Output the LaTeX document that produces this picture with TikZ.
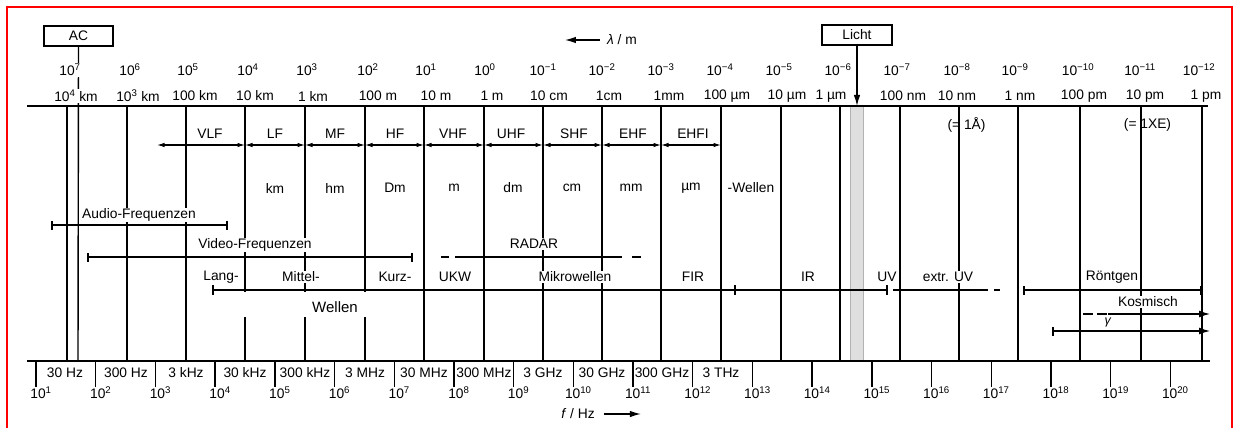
\documentclass[tikz,border=0pt]{standalone}
\usepackage{fontspec}
\setmainfont{Liberation Sans}
\usetikzlibrary{arrows.meta}
\begin{document}
\begin{tikzpicture}[x=1pt,y=-1pt,
  every node/.style={font=\fontsize{13.8}{16}\selectfont, inner sep=1pt},
  axisline/.style={line width=1.4pt},
  vline/.style={line width=1.4pt},
  lab/.style={fill=white, inner sep=1pt},
  bandarrow/.style={line width=1.1pt, {Latex[length=7.5pt,width=4.5pt]}-{Latex[length=7.5pt,width=4.5pt]}},
  rangebar/.style={line width=1.3pt, {Bar[width=9pt,line width=1.8pt]}-{Bar[width=9pt,line width=1.8pt]}},
  tickmark/.style={line width=1.8pt},
  bigarrow/.style={line width=1.3pt, -{Latex[length=11pt,width=7pt]}},
  boxlabel/.style={draw, line width=1.1pt, minimum height=20pt, inner sep=2pt}
]
\useasboundingbox (0,0) rectangle (1235,428);
% frame
\draw[red, line width=2pt] (7,428) -- (7,7) -- (1232,7) -- (1232,428);

% light band
\draw[gray!60, fill=gray!25, line width=0.6pt] (850,106) rectangle (863,361);

% vertical lines
\foreach \x in {67,127,186,424,484,543,602,661,721,781,840,900,959,1018,1080,1141,1202}
  \draw[vline] (\x,106) -- (\x,361);
\foreach \x in {245,305,365} {
  \draw[vline] (\x,106) -- (\x,292);
  \draw[vline] (\x,317) -- (\x,361);
}

% AC box and line
\node[boxlabel, minimum width=69pt] (ac) at (78.5,36) {AC};
\draw[vline] (ac.south) -- (78,361);

% Licht box and arrow
\node[boxlabel, minimum width=70pt] (licht) at (857,35) {Licht};
\draw[line width=1.3pt, -{Latex[length=11pt,width=6.5pt]}] (licht.south) -- (857,106);

% axes
\draw[axisline] (27,106) -- (1208,106);
\draw[axisline] (27,361) -- (1210,361);

% lambda title
\node (lam) at (622,40) {\textit{λ} / m};
\draw[line width=1.3pt, -{Latex[length=11pt,width=6.5pt]}] ([xshift=-6pt]lam.west) -- ++(-35,0);

% top exponent labels
\foreach \x/\t [count=\i] in {70/7,130/6,188/5,248/4,307/3,368/2,426/1,485/0,543/−1,602/−2,661/−3,720/−4,779/−5,838/−6,897/−7,957/−8,1015/−9,1078/−10,1140/−11,1199/−12}
  \node[lab] (e\i) at (\x,70) {10\textsuperscript{\t}};

% top unit labels
\foreach \x/\t [count=\i] in {76/10\textsuperscript{4} km,138/10\textsuperscript{3} km,195/100 km,255/10 km,313/1 km,378/100 m,436/10 m,492/1 m,549/10 cm,609/1cm,669/1mm,727/100 µm,787/10 µm,831/1 µm,903/100 nm,957/10 nm,1020/1 nm,1084/100 pm,1145/10 pm,1206/1 pm}
  \node[lab] (u\i) at (\x,96) {\t};

% frequency bands
\foreach \a/\b/\t/\c [count=\i] in {157/245/VLF/210,245/305/LF/275,305/365/MF/335,365/424/HF/395,424/484/VHF/453,484/543/UHF/511,543/602/SHF/574,602/661/EHF/633,661/721/EHFI/693} {
  \draw[bandarrow] (\a,145) -- (\b,145);
  \node (b\i) at (\c,134) {\t};
}

% wavelength names
\foreach \x/\t [count=\i] in {275/km,335/hm,395/Dm,454/m,513/dm,572/cm,631/mm,691/µm,751/-Wellen}
  \node (w\i) at (\x,188) {\t};

\node (aa) at (966.5,125) {(= 1Å)};
\node (xe) at (1147.5,125) {(= 1XE)};

% Audio / Video / RADAR
\node[lab] (audio) at (139,215) {Audio-Frequenzen};
\draw[rangebar] (51,225) -- (228,225);
\node[lab] (video) at (255,245) {Video-Frequenzen};
\draw[rangebar] (87,257) -- (413,257);
\node[lab] (radar) at (534,244) {RADAR};
\draw[line width=1.3pt] (441,257) -- (449,257);
\draw[line width=1.3pt] (455,257) -- (622,257);
\draw[line width=1.3pt] (632,257) -- (641,257);

% region names
\foreach \x/\t [count=\i] in {221/Lang-,301/Mittel-,395/Kurz-,455/UKW,575/Mikrowellen,693/FIR,808/IR,887/UV,948/extr. UV,1112/Röntgen}
  \node[lab] (r\i) at (\x,277) {\t};

% main bar
\draw[line width=1.3pt] (213,290) -- (887,290);
\foreach \x in {213,424,661,735,887}
  \draw[tickmark] (\x,285) -- (\x,295);
\draw[line width=1.3pt] (484,287) -- (484,293);
\draw[line width=1.3pt] (893,290) -- (988,290);
\draw[line width=1.3pt] (994,290) -- (1000,290);
\draw[rangebar] (1023,290) -- (1202,290);

\node[font=\fontsize{15}{18}\selectfont] (wellen) at (335,307) {Wellen};

% cosmic and gamma
\node[lab] (kos) at (1148,302) {Kosmisch};
\draw[line width=1.3pt, dash pattern=on 10pt off 4pt] (1083,314) -- (1108,314);
\draw[bigarrow] (1108,314) -- (1210,314);
\node[font=\fontsize{12.5}{14}\selectfont] (gam) at (1108,322) {\textit{γ}};
\draw[line width=1.3pt, {Bar[width=9pt,line width=1.8pt]}-{Latex[length=11pt,width=7pt]}] (1052,331) -- (1210,331);

% bottom frequency scale
\foreach \n in {1,...,20} {
  \draw[vline] ({36+59.7*(\n-1)},361) -- ++(0,26);
  \node (f\n) at ({41+59.7*(\n-1)},393) {10\textsuperscript{\n}};
}
\foreach \x/\t [count=\i] in {65/30 Hz,126/300 Hz,186/3 kHz,245/30 kHz,305/300 kHz,365/3 MHz,424/30 MHz,484/300 MHz,543/3 GHz,602/30 GHz,662/300 GHz,721/3 THz}
  \node (h\i) at (\x,373) {\t};

\node (fhz) at (578,414) {\textit{f} / Hz};
\draw[line width=1.3pt, -{Latex[length=11pt,width=6.5pt]}] ([xshift=8pt]fhz.east) -- ++(37,0);
\end{tikzpicture}
\end{document}
